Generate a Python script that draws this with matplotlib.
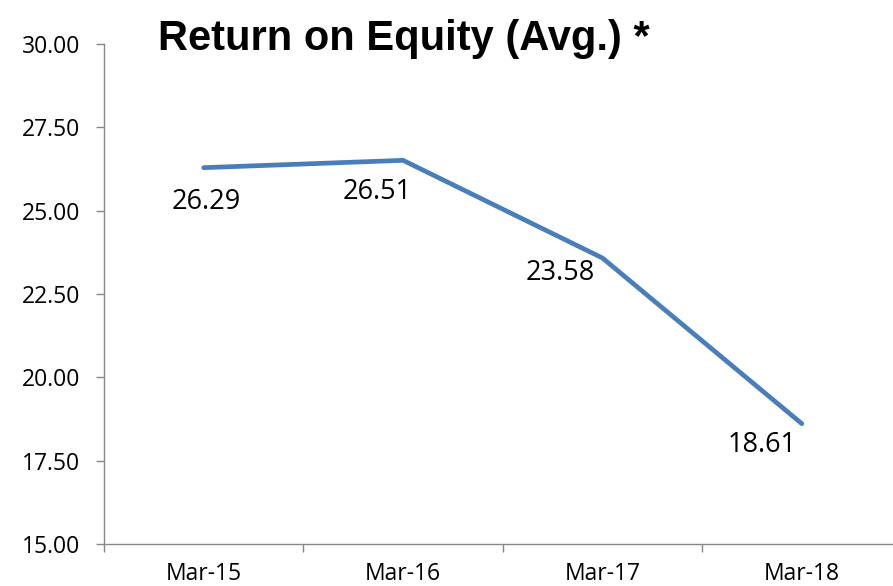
#!/usr/bin/env python3

import matplotlib
matplotlib.use('Agg')
import matplotlib.pyplot as plt
from matplotlib.ticker import FixedLocator, NullFormatter, FixedFormatter

# Average return on equity by financial year end
periods = ['Mar-15', 'Mar-16', 'Mar-17', 'Mar-18']
roe_values = [26.29, 26.51, 23.58, 18.61]
y_ticks = [15.00, 17.50, 20.00, 22.50, 25.00, 27.50, 30.00]
# Where each value label sits relative to its point, in pixels (right, down)
label_offsets = [(3, 34), (-26, 32), (-42, 15), (-40, 21)]

LINE_COLOR = '#4A7EBB'
AXIS_COLOR = '#878787'
LABEL_FONT = ['Open Sans', 'DejaVu Sans']
TITLE_FONT = ['Liberation Sans', 'DejaVu Sans']

fig = plt.figure(figsize=(8.93, 5.86), dpi=100)
# The plot area runs a little past the right edge, cutting off the last category boundary
ax = fig.add_axes([104 / 893, 42 / 586, 797.5 / 893, 500 / 586])

positions = list(range(len(periods)))
ax.plot(positions, roe_values, color=LINE_COLOR, linewidth=3.4,
        solid_capstyle='round', solid_joinstyle='miter')

# Value labels next to each point
px_to_pt = 72 / fig.dpi
for x, value, (dx, dy) in zip(positions, roe_values, label_offsets):
    ax.annotate('{:.2f}'.format(value), xy=(x, value),
                xytext=(dx * px_to_pt, -dy * px_to_pt), textcoords='offset points',
                ha='center', va='center', fontsize=19.5, family=LABEL_FONT,
                color='black')

ax.set_xlim(-0.5, len(periods) - 0.5)
ax.set_ylim(y_ticks[0], y_ticks[-1])

# Category boundaries get the tick marks, the category centres get the names
ax.xaxis.set_major_locator(FixedLocator([p - 0.5 for p in range(len(periods) + 1)]))
ax.xaxis.set_major_formatter(NullFormatter())
ax.xaxis.set_minor_locator(FixedLocator(positions))
ax.xaxis.set_minor_formatter(FixedFormatter(periods))
ax.tick_params(axis='x', which='major', direction='out', length=6,
               width=1.0, color=AXIS_COLOR)
ax.tick_params(axis='x', which='minor', length=0, pad=13,
               labelsize=16.5, labelcolor='black')

ax.set_yticks(y_ticks)
ax.set_yticklabels(['{:.2f}'.format(t) for t in y_ticks])
ax.tick_params(axis='y', direction='out', length=6, width=1.0, pad=11,
               color=AXIS_COLOR, labelsize=16.5, labelcolor='black')

for label in ax.get_xticklabels(minor=True) + ax.get_yticklabels():
    label.set_family(LABEL_FONT)

ax.spines['top'].set_visible(False)
ax.spines['right'].set_visible(False)
for side in ('left', 'bottom'):
    ax.spines[side].set_color(AXIS_COLOR)
    ax.spines[side].set_linewidth(1.0)

fig.text(404 / 893, 536 / 586, 'Return on Equity (Avg.) *', ha='center',
         va='baseline', fontsize=30, fontweight='bold', family=TITLE_FONT,
         color='black')

fig.savefig('out.png', dpi=100)
